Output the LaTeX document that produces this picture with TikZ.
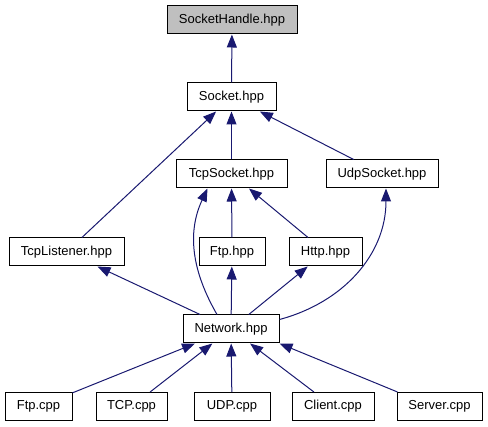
\documentclass[tikz,border=0pt]{standalone}
\usepackage{fontspec}
\setmainfont{Liberation Sans}
\usetikzlibrary{arrows.meta}
\definecolor{edgeblue}{HTML}{191970}
\begin{document}
\begin{tikzpicture}
[x=1pt,y=-1pt,
 fileDecorate/.style={shape=rectangle,draw=black,line width=1pt,minimum height=28pt,inner sep=0pt,font=\fontsize{13}{15}\selectfont},%
 rootDecorate/.style={fileDecorate,fill=black!25},%
 lineDecorate/.style={draw=edgeblue,line width=1pt,-{Triangle[length=13pt,width=10pt]}}]
\useasboundingbox (0,0) rectangle (488,427);
%% included file
\node (SocketHandle) at (232,20) [rootDecorate,minimum width=130pt] {SocketHandle.hpp};
%% headers and sources
\foreach \nodename/\x/\y/\w/\filename in {
  Socket/231.5/97/89/Socket.hpp, TcpSocket/231.5/174/111/TcpSocket.hpp,
  UdpSocket/382/174/112/UdpSocket.hpp, TcpListener/66.5/252/115/TcpListener.hpp,
  FtpH/232/252/66/Ftp.hpp, HttpH/325.5/252/73/Http.hpp,
  Network/231/329/96/Network.hpp,
  FtpC/38.5/406.5/67/Ftp.cpp, TcpC/131.5/406.5/71/TCP.cpp,
  UdpC/232/406.5/76/UDP.cpp, ClientC/333/406.5/82/Client.cpp,
  ServerC/439.5/406.5/85/Server.cpp}
{
  \node (\nodename) at (\x,\y) [fileDecorate,minimum width=\w pt] {\filename};
}
%% include edges
\path
\foreach \startnode/\endnode in {Socket/SocketHandle, TcpSocket/Socket,
  UdpSocket/Socket, TcpListener/Socket, FtpH/TcpSocket, HttpH/TcpSocket,
  Network/TcpListener, Network/FtpH, Network/HttpH,
  FtpC/Network, TcpC/Network, UdpC/Network, ClientC/Network}
{
  (\startnode) edge[lineDecorate] (\endnode)
};
\draw[lineDecorate] ([xshift=1pt]ServerC.north west) -- (Network.south east);
\draw[lineDecorate] ([xshift=-14pt]Network.north) to[out=120,in=-115] ([xshift=-24pt]TcpSocket.south);
\draw[lineDecorate] ([yshift=-5pt]Network.north east) to[out=15,in=-90] ([xshift=4pt]UdpSocket.south);
\end{tikzpicture}
\end{document}
